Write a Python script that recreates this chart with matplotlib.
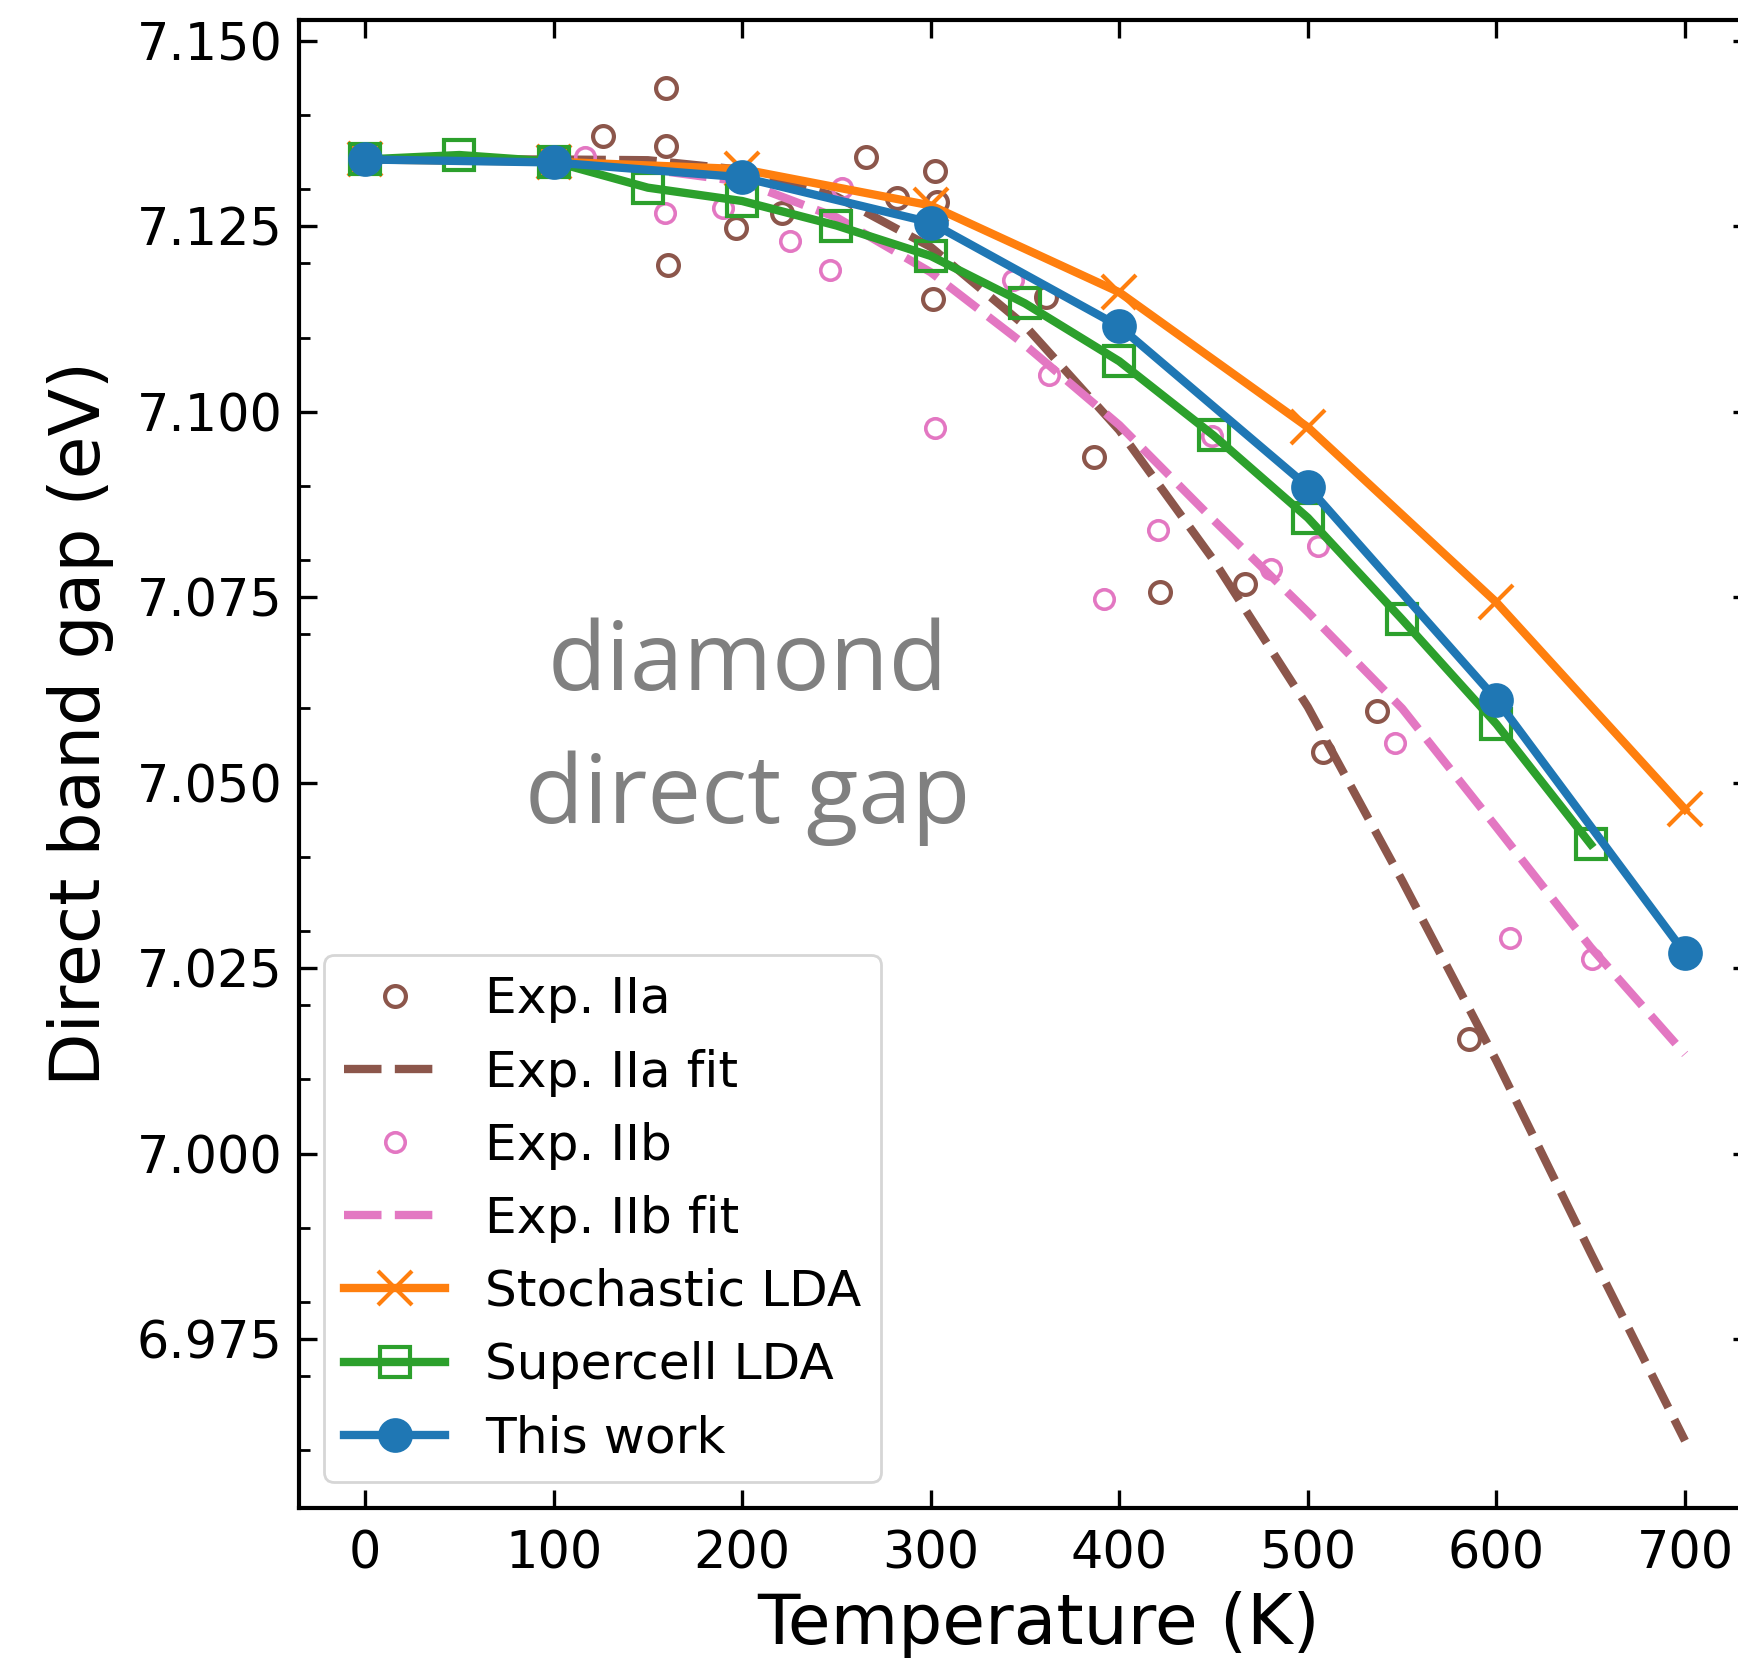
import matplotlib
matplotlib.use("Agg")
import matplotlib.pyplot as plt
from matplotlib.ticker import MultipleLocator, FormatStrFormatter

# ---------------- data ----------------
exp_IIa_T = [159.5, 126.3, 159.5, 160.7, 196.9, 221.1, 265.7, 302.4, 303.2, 301.4,
             282.0, 360.9, 386.8, 421.8, 466.9, 536.9, 508.1, 585.5]
exp_IIa_E = [7.1437, 7.1372, 7.1358, 7.1198, 7.1247, 7.1268, 7.1344, 7.1324, 7.1283, 7.1152,
             7.1288, 7.1154, 7.0939, 7.0757, 7.0768, 7.0596, 7.0541, 7.0155]

fit_IIa_T = [0, 50, 100, 150, 200, 250, 300, 350, 400, 450, 500, 550, 600, 650, 700]
fit_IIa_E = [7.1340, 7.1340, 7.1340, 7.1339, 7.1326, 7.1290, 7.1222, 7.1116, 7.0975,
             7.0800, 7.0602, 7.0368, 7.0125, 6.9866, 6.9613]

exp_IIb_T = [116.6, 159.0, 189.9, 225.3, 246.6, 252.8, 302.4, 343.9, 362.5, 391.8,
             420.6, 449.4, 480.6, 505.6, 546.3, 607.3, 650.5]
exp_IIb_E = [7.1344, 7.1268, 7.1274, 7.1230, 7.1191, 7.1301, 7.0978, 7.1178, 7.1050, 7.0747,
             7.0840, 7.0967, 7.0788, 7.0819, 7.0554, 7.0290, 7.0262]

fit_IIb_T = [0, 50, 100, 150, 200, 250, 300, 350, 400, 450, 500, 550, 600, 650, 700]
fit_IIb_E = [7.1340, 7.1340, 7.1337, 7.1327, 7.1310, 7.1262, 7.1188, 7.1090, 7.0982,
             7.0854, 7.0730, 7.0600, 7.0440, 7.0278, 7.0134]

stoch_T = [0, 100, 200, 300, 400, 500, 600, 700]
stoch_E = [7.1340, 7.1337, 7.1327, 7.1278, 7.1161, 7.0979, 7.0743, 7.0464]

super_T = [0, 50, 100, 150, 200, 250, 300, 350, 400, 450, 500, 550, 600, 650]
super_E = [7.1340, 7.1346, 7.1337, 7.1302, 7.1284, 7.1251, 7.1210, 7.1146, 7.1068,
           7.0968, 7.0857, 7.0720, 7.0579, 7.0417]

work_T = [0, 100, 200, 300, 400, 500, 600, 700]
work_E = [7.1340, 7.1336, 7.1316, 7.1255, 7.1115, 7.0899, 7.0612, 7.0270]

labels = ["Exp. IIa", "Exp. IIa fit", "Exp. IIb", "Exp. IIb fit",
          "Stochastic LDA", "Supercell LDA", "This work"]
xticks = [0, 100, 200, 300, 400, 500, 600, 700]

# ---------------- style ----------------
plt.rcParams['font.family'] = ['DejaVu Sans']
brown, pink = '#8c564b', '#e377c2'
orange, green, blue = '#ff7f0e', '#2ca02c', '#1f77b4'

W, H = 1738, 1661
fig = plt.figure(figsize=(W / 200, H / 200), dpi=200)
ax = fig.add_axes([299 / W, 153.5 / H, (1751 - 299) / W, (1507.5 - 20) / H])

dash = (0, (4.5, 1.6))
ax.plot(exp_IIa_T, exp_IIa_E, 'o', ls='none', mfc='none', mec=brown, ms=7.5, mew=1.5,
        label=labels[0])
ax.plot(fit_IIa_T, fit_IIa_E, ls=dash, lw=3, color=brown, label=labels[1])
ax.plot(exp_IIb_T, exp_IIb_E, 'o', ls='none', mfc='none', mec=pink, ms=7, mew=1.3,
        label=labels[2])
ax.plot(fit_IIb_T, fit_IIb_E, ls=dash, lw=3, color=pink, label=labels[3])
ax.plot(stoch_T, stoch_E, '-x', lw=3, color=orange, ms=12.5, mew=1.5, label=labels[4])
ax.plot(super_T, super_E, '-s', lw=3, color=green, ms=11, mew=1.5, mfc='none',
        label=labels[5])
ax.plot(work_T, work_E, '-o', lw=3, color=blue, ms=11.5, label=labels[6])

ax.set_xlim(-35, 735)
ax.set_ylim(6.9523, 7.1528)
ax.set_xticks(xticks)
ax.yaxis.set_major_locator(MultipleLocator(0.025))
ax.yaxis.set_minor_locator(MultipleLocator(0.01))
ax.yaxis.set_major_formatter(FormatStrFormatter('%.3f'))

for s in ax.spines.values():
    s.set_linewidth(1.5)
ax.tick_params(which='both', direction='in', top=True, right=True, labelsize=18.3)
ax.tick_params(axis='x', which='both', pad=8)
ax.tick_params(axis='y', which='both', pad=6)
ax.tick_params(which='major', length=6.5, width=1.2)
ax.tick_params(which='minor', length=3.8, width=1.0)

ax.set_xlabel("Temperature (K)", fontsize=25)
ax.set_ylabel("Direct band gap (eV)", fontsize=25, labelpad=8)
ax.xaxis.label.set_x(0.509)
ax.yaxis.label.set_y(0.527)

ax.text(203, 7.0625, "diamond", ha='center', va='baseline', fontsize=34.5,
        color='#808080', family=['Open Sans', 'DejaVu Sans'])
ax.text(203, 7.0445, "direct gap", ha='center', va='baseline', fontsize=34.5,
        color='#808080', family=['Open Sans', 'DejaVu Sans'])

ax.legend(loc='lower left', fontsize=18.1, numpoints=1)

fig.savefig("out.png", dpi=200)
